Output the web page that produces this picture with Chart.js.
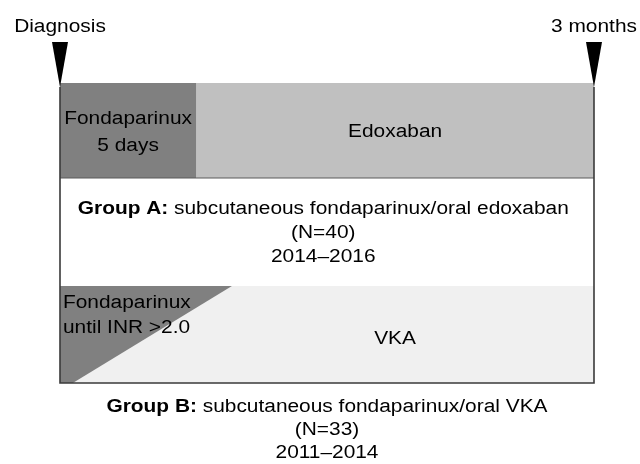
<!DOCTYPE html>
<html>
<head>
<meta charset="utf-8">
<script src="https://cdn.jsdelivr.net/npm/chart.js@4"></script>
<style>
  html, body { margin: 0; padding: 0; background: #fff; }
  #wrap { width: 640px; height: 464px; position: relative; }
</style>
</head>
<body>
<div id="wrap"><canvas id="diagram"></canvas></div>
<script>
// Timeline ends (x axis runs 0..100, diagram is not drawn to scale)
const timelineLabels = ['Diagnosis', '3 months'];
const timelineTicks = [0, 100];

// Group A: fondaparinux lead-in, then edoxaban
const groupAPhases = ['Fondaparinux\n5 days', 'Edoxaban'];
const groupASplit = [0, 25.5, 100];
const groupACaption = ['Group A:', ' subcutaneous fondaparinux/oral edoxaban', '(N=40)', '2014–2016'];

// Group B: fondaparinux overlapping VKA until INR >2.0 (diagonal split top/bottom)
const groupBPhases = ['Fondaparinux\nuntil INR >2.0', 'VKA'];
const groupBSplitTop = 32.2;
const groupBSplitBottom = 2.4;
const groupBCaption = ['Group B:', ' subcutaneous fondaparinux/oral VKA', '(N=33)', '2011–2014'];

// layout rows on the y scale (reversed, 1 unit = 1px)
const rowA = [0, 95];
const rowB = [203, 300];
const FONT = "'Liberation Sans', Arial, sans-serif";
const STRETCH = 1.16;

function poly(pts, color, extra) {
  return Object.assign({
    type: 'line',
    data: pts.map(p => ({ x: p[0], y: p[1] })),
    backgroundColor: color,
    borderColor: color,
    borderWidth: 0,
    pointRadius: 0,
    fill: 'shape',
    tension: 0,
    clip: false
  }, extra || {});
}

// first dataset is drawn on top, so list from front to back
const datasets = [
  // timeline arrows
  ...timelineTicks.map(t => poly([[t - 1.5, -41], [t + 1.5, -41], [t, 4]], '#000')),
  // outer frame
  poly([[0, 4], [0, rowB[1]], [100, rowB[1]], [100, 4]], '#3a3a3a', { fill: false, borderWidth: 1.6 }),
  // box edge under group A
  poly([[0, rowA[1]], [100, rowA[1]]], '#5a5a5a', { fill: false, borderWidth: 1 }),
  poly([[0, rowB[0]], [groupBSplitTop, rowB[0]], [groupBSplitBottom, rowB[1]], [0, rowB[1]]], '#808080'),
  poly([[0, rowB[0]], [100, rowB[0]], [100, rowB[1]], [0, rowB[1]]], '#f0f0f0'),
  poly([[groupASplit[0], rowA[0]], [groupASplit[1], rowA[0]], [groupASplit[1], rowA[1]], [groupASplit[0], rowA[1]]], '#808080'),
  poly([[groupASplit[1], rowA[0]], [groupASplit[2], rowA[0]], [groupASplit[2], rowA[1]], [groupASplit[1], rowA[1]]], '#c0c0c0')
];

function stretchedText(ctx, text, x, y, align) {
  ctx.save();
  ctx.translate(x, y);
  ctx.scale(STRETCH, 1);
  ctx.textAlign = align;
  ctx.fillText(text, 0, 0);
  ctx.restore();
}

function lines(ctx, text, x, y, align, lh) {
  text.split('\n').forEach((t, i) => stretchedText(ctx, t, x, y + i * lh, align));
}

function caption(ctx, parts, cx, y, lh) {
  ctx.font = 'bold 18px ' + FONT;
  const wb = ctx.measureText(parts[0]).width * STRETCH;
  ctx.font = '18px ' + FONT;
  const wr = ctx.measureText(parts[1]).width * STRETCH;
  const left = cx - (wb + wr) / 2;
  ctx.font = 'bold 18px ' + FONT;
  stretchedText(ctx, parts[0], left, y, 'left');
  ctx.font = '18px ' + FONT;
  stretchedText(ctx, parts[1], left + wb, y, 'left');
  stretchedText(ctx, parts[2], cx, y + lh, 'center');
  stretchedText(ctx, parts[3], cx, y + 2 * lh, 'center');
}

const labelPlugin = {
  id: 'labels',
  afterDatasetsDraw(chart) {
    const ctx = chart.ctx;
    const x = chart.scales.x, y = chart.scales.y;
    ctx.save();
    ctx.fillStyle = '#000';
    ctx.textBaseline = 'alphabetic';
    ctx.font = '18px ' + FONT;
    timelineLabels.forEach((l, i) => stretchedText(ctx, l, x.getPixelForValue(timelineTicks[i]), y.getPixelForValue(-51), 'center'));
    lines(ctx, groupAPhases[0], x.getPixelForValue((groupASplit[0] + groupASplit[1]) / 2), y.getPixelForValue(41), 'center', 27);
    lines(ctx, groupAPhases[1], x.getPixelForValue((groupASplit[1] + groupASplit[2]) / 2), y.getPixelForValue(54), 'center', 26);
    lines(ctx, groupBPhases[0], x.getPixelForValue(0) + 3, y.getPixelForValue(225), 'left', 25);
    lines(ctx, groupBPhases[1], x.getPixelForValue((groupASplit[1] + groupASplit[2]) / 2), y.getPixelForValue(261), 'center', 25);
    caption(ctx, groupACaption, x.getPixelForValue(49.3), y.getPixelForValue(131), 24);
    caption(ctx, groupBCaption, x.getPixelForValue(50), y.getPixelForValue(329), 23);
    ctx.restore();
  }
};

// x: 0 -> 60px, 100 -> 594px across the full 640px width
const pxPerUnit = 534 / 100;

new Chart(document.getElementById('diagram'), {
  type: 'scatter',
  data: { datasets },
  options: {
    responsive: true,
    maintainAspectRatio: false,
    animation: false,
    layout: { padding: { left: 0, right: 0, top: 37, bottom: 81 } },
    scales: {
      x: { type: 'linear', min: -60 / pxPerUnit, max: 100 + 46 / pxPerUnit, display: false },
      y: { type: 'linear', min: -46, max: 300, reverse: true, display: false }
    },
    plugins: { legend: { display: false }, tooltip: { enabled: false } }
  },
  plugins: [labelPlugin]
});
</script>
</body>
</html>
